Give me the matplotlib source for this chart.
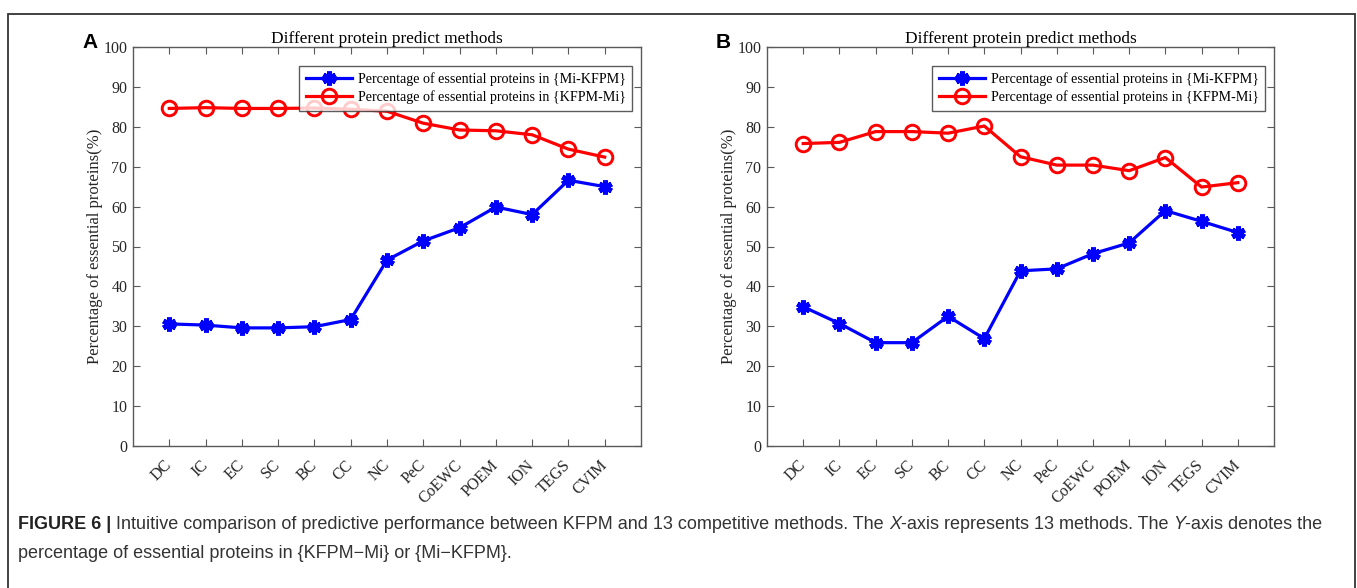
import matplotlib
matplotlib.use("Agg")
import matplotlib.pyplot as plt
from matplotlib.patches import Rectangle
from matplotlib.offsetbox import TextArea, HPacker, AnchoredOffsetbox

methods = ["DC", "IC", "EC", "SC", "BC", "CC", "NC", "PeC", "CoEWC",
           "POEM", "ION", "TEGS", "CVIM"]

# panel A
mi_kfpm_a = [30.6, 30.3, 29.6, 29.6, 29.9, 31.7, 46.6, 51.4, 54.7, 59.9, 58.0, 66.6, 65.0]
kfpm_mi_a = [84.6, 84.8, 84.6, 84.6, 84.7, 84.4, 83.9, 80.9, 79.2, 79.0, 78.0, 74.4, 72.4]

# panel B
mi_kfpm_b = [34.9, 30.7, 25.9, 25.9, 32.5, 26.9, 43.9, 44.4, 48.2, 50.9, 59.0, 56.3, 53.5]
kfpm_mi_b = [75.8, 76.1, 78.8, 78.8, 78.4, 80.2, 72.5, 70.4, 70.4, 69.0, 72.3, 64.9, 66.0]

serif = "Liberation Serif"
axis_col = "#5a5a5a"
text_col = "#262626"

W, H = 1357, 588
fig = plt.figure(figsize=(W / 100, H / 100), dpi=100)

# outer frame around the figure
fig.patches.append(Rectangle((8 / W, -0.05), (1355 - 8) / W, 1.05 - 14 / H,
                             transform=fig.transFigure, fill=False,
                             edgecolor="#333333", linewidth=1.3))


def draw_panel(left_px, right_px, mi, km, letter):
    ax = fig.add_axes([left_px / W, (H - 446) / H, (right_px - left_px) / W, 399 / H])
    x = list(range(1, len(methods) + 1))
    ax.plot(x, mi, color="blue", linewidth=2.3, marker=(6, 2, 0),
            markersize=10, markeredgewidth=3.6,
            label="Percentage of essential proteins in {Mi-KFPM}")
    ax.plot(x, km, color="red", linewidth=2.3, marker="o",
            markersize=10.5, markerfacecolor="none", markeredgewidth=2.1,
            label="Percentage of essential proteins in {KFPM-Mi}")
    ax.set_xlim(0, 14)
    ax.set_ylim(0, 100)
    ax.set_xticks(x)
    ax.set_xticklabels(methods, rotation=45, ha="right", va="center",
                       rotation_mode="anchor", fontfamily=serif,
                       fontsize=11.5, color=text_col)
    ax.set_yticks(range(0, 101, 10))
    ax.set_yticklabels([str(v) for v in range(0, 101, 10)],
                       fontfamily=serif, fontsize=11.5, color=text_col)
    ax.tick_params(direction="in", length=5, width=0.8, color=axis_col,
                   top=True, right=True)
    ax.tick_params(axis="x", pad=12)
    ax.tick_params(axis="y", pad=4)
    for s in ax.spines.values():
        s.set_color(axis_col)
        s.set_linewidth(1.0)
    ax.set_title("Different protein predict methods", fontfamily=serif,
                 fontsize=12.4, color="black", pad=3)
    ax.set_ylabel("Percentage of essential proteins(%)", fontfamily=serif,
                  fontsize=12, color=text_col, labelpad=0)
    leg = ax.legend(loc="upper right", bbox_to_anchor=(0.982, 0.952),
                    prop={"family": serif, "size": 10.1}, frameon=True,
                    fancybox=False, handlelength=3.3, borderpad=0.45,
                    labelspacing=0.3, handletextpad=0.4, borderaxespad=0)
    leg.get_frame().set_edgecolor("#333333")
    leg.get_frame().set_linewidth(1.0)
    fig.text((left_px - 51) / W, 1 - 48 / H, letter, fontfamily="Liberation Sans",
             fontweight="bold", fontsize=15, ha="left", va="baseline")
    return ax


draw_panel(133, 641, mi_kfpm_a, kfpm_mi_a, "A")
draw_panel(767, 1274, mi_kfpm_b, kfpm_mi_b, "B")

# caption
cap_font = "Liberation Sans"
cap_size = 12.95
cap_col = "#333333"


def piece(s, **kw):
    props = dict(fontfamily=cap_font, fontsize=cap_size, color=cap_col)
    props.update(kw)
    return TextArea(s, textprops=props)


line1 = HPacker(children=[
    piece("FIGURE 6 |", fontweight="bold", color="#222222"),
    piece(" Intuitive comparison of predictive performance between KFPM and 13 "
          "competitive methods. The "),
    piece("X", fontstyle="italic"),
    piece("-axis represents 13 methods. The "),
    piece("Y", fontstyle="italic"),
    piece("-axis denotes the"),
], align="baseline", pad=0, sep=0)
box1 = AnchoredOffsetbox(loc="lower left", child=line1, pad=0, borderpad=0,
                         frameon=False, bbox_to_anchor=(18 / W, 1 - 533 / H),
                         bbox_transform=fig.transFigure)
fig.add_artist(box1)
fig.text(18 / W, 1 - 558 / H, "percentage of essential proteins in "
         "{KFPM\u2212Mi} or {Mi\u2212KFPM}.", fontfamily=cap_font,
         fontsize=cap_size, color=cap_col, ha="left", va="baseline")

fig.savefig("out.png", dpi=100)
